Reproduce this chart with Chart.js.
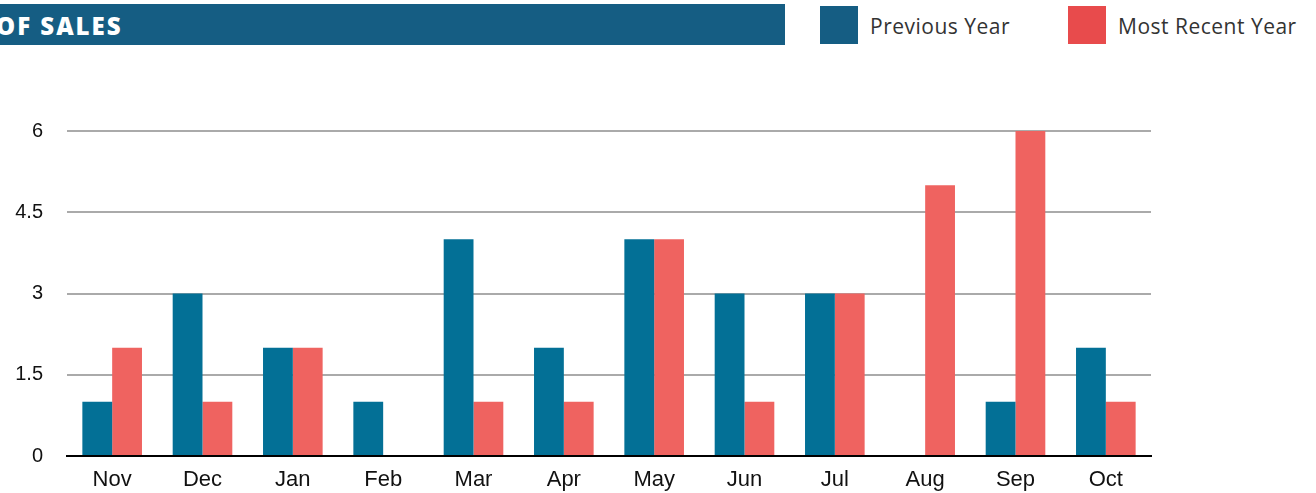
<!DOCTYPE html>
<html>
<head>
<meta charset="utf-8">
<script src="https://cdn.jsdelivr.net/npm/chart.js@4/dist/chart.umd.min.js"></script>
<style>
  html, body { margin: 0; padding: 0; background: #fff; }
  #wrap { position: relative; width: 1316px; height: 493px; overflow: hidden; }
  #title-bar {
    position: absolute; left: 0; top: 4px; width: 785px; height: 41px;
    background: #155d83; color: #fff;
    font: 800 24px "Open Sans", sans-serif; letter-spacing: 2px;
    line-height: 43px; text-indent: -4px;
  }
  .legend-item { position: absolute; top: 6px; height: 38px; display: flex; align-items: center; }
  .legend-item .swatch { width: 38px; height: 38px; margin-right: 12px; }
  .legend-item span { font: 400 21px "Open Sans", sans-serif; color: #333; padding-top: 2px; letter-spacing: 0.5px; }
  #chart-box { position: absolute; left: 0; top: 0; width: 1316px; height: 493px; }
</style>
</head>
<body>
<div id="wrap">
  <div id="title-bar">OF SALES</div>
  <div class="legend-item" style="left:820px"><div class="swatch" style="background:#155d83"></div><span>Previous Year</span></div>
  <div class="legend-item" style="left:1068px"><div class="swatch" style="background:#e84b4c"></div><span>Most Recent Year</span></div>
  <div id="chart-box"><canvas id="sales-chart"></canvas></div>
</div>
<script>
const months = ['Nov', 'Dec', 'Jan', 'Feb', 'Mar', 'Apr', 'May', 'Jun', 'Jul', 'Aug', 'Sep', 'Oct'];
const previousYear = [1, 3, 2, 1, 4, 2, 4, 3, 3, 0, 1, 2];
const recentYear = [2, 1, 2, 0, 1, 1, 4, 1, 3, 5, 6, 1];
const yTicks = [0, 1.5, 3, 4.5, 6];

const ctx = document.getElementById('sales-chart').getContext('2d');
new Chart(ctx, {
  type: 'bar',
  data: {
    labels: months,
    datasets: [
      { label: 'Previous Year', data: previousYear, backgroundColor: '#037096' },
      { label: 'Most Recent Year', data: recentYear, backgroundColor: '#ef6360' }
    ]
  },
  options: {
    responsive: true,
    maintainAspectRatio: false,
    animation: false,
    layout: { padding: { top: 131, right: 165, left: 0, bottom: 0 } },
    datasets: { bar: { barPercentage: 1, categoryPercentage: 0.66 } },
    plugins: { legend: { display: false }, tooltip: { enabled: false } },
    scales: {
      x: {
        grid: { display: false },
        border: { color: '#000', width: 2 },
        ticks: { color: '#111', font: { family: 'Liberation Sans', size: 22 }, padding: 3 },
        afterFit: scale => { scale.height = 37; }
      },
      y: {
        min: 0,
        max: 6,
        afterBuildTicks: scale => { scale.ticks = yTicks.map(v => ({ value: v })); },
        grid: {
          color: c => (c.tick && c.tick.value === 0 ? '#000' : '#aaa'),
          lineWidth: 2,
          drawTicks: false
        },
        border: { display: false },
        ticks: { color: '#111', font: { family: 'Liberation Sans', size: 20 }, padding: 24 },
        afterFit: scale => { scale.width = 67; }
      }
    }
  }
});
</script>
</body>
</html>
